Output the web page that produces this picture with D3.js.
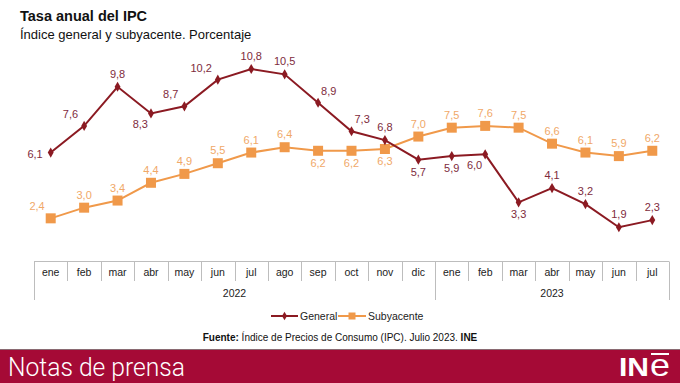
<!DOCTYPE html>
<html><head><meta charset="utf-8">
<script src="https://cdn.jsdelivr.net/npm/d3@7"></script>
<style>body{margin:0;background:#fff;} svg{display:block;font-family:"Liberation Sans",Arial,sans-serif;}</style>
</head><body><svg id="c" width="680" height="383"></svg>
<script>
const months = ["ene","feb","mar","abr","may","jun","jul","ago","sep","oct","nov","dic","ene","feb","mar","abr","may","jun","jul"];
const years = [{label:"2022", n:12},{label:"2023", n:7}];
const general = [6.1,7.6,9.8,8.3,8.7,10.2,10.8,10.5,8.9,7.3,6.8,5.7,5.9,6.0,3.3,4.1,3.2,1.9,2.3];
const subyacente = [2.4,3.0,3.4,4.4,4.9,5.5,6.1,6.4,6.2,6.2,6.3,7.0,7.5,7.6,7.5,6.6,6.1,5.9,6.2];
// label placement codes (layout, not data)
const genPos = ["l","al","a","bl","al","al","a","a","ar","ar","a","b","b","bl","b","a","a","a","a"];
const subPos = ["al","a","a","a","a","a","a","a","b","b","b","a","a","a","a","a","a","a","a"];

const svg = d3.select("#c");
const C_GEN = "#8b1a22", C_GEN_T = "#7e2b3c", C_SUB = "#f0994a", C_SUB_T = "#f0a868";
const fmt = v => d3.format(".1f")(v).replace(".", ",");

const x = d3.scaleBand().domain(d3.range(months.length)).range([34, 669]);
const xc = i => x(i) + x.bandwidth()/2;
const y = d3.scaleLinear().domain([0, 10.8]).range([261, 69]);

// titles
svg.append("text").attr("x",20).attr("y",21).attr("font-size",14.5).attr("font-weight","bold").attr("fill","#111").text("Tasa anual del IPC");
svg.append("text").attr("x",20).attr("y",39).attr("font-size",13).attr("fill","#111").text("Índice general y subyacente. Porcentaje");

// axis box
const ax = svg.append("g").attr("stroke","#bdbdbd").attr("stroke-width",1).attr("fill","none");
ax.append("line").attr("x1",34).attr("x2",669).attr("y1",261.5).attr("y2",261.5);
let idx = 0;
const bounds = [0];
years.forEach(yr => { idx += yr.n; bounds.push(idx); });
d3.range(months.length + 1).forEach(i => {
  const xx = Math.round(i < months.length ? x(i) : x(months.length-1) + x.bandwidth()) + 0.5;
  const long = bounds.includes(i);
  ax.append("line").attr("x1",xx).attr("x2",xx).attr("y1",261.5).attr("y2", long ? 300 : 281);
});
svg.append("g").selectAll("text").data(months).join("text")
  .attr("x",(d,i)=>xc(i)).attr("y",276).attr("text-anchor","middle").attr("font-size",10.5).attr("fill","#222").text(d=>d);
let start = 0;
years.forEach(yr => {
  const x0 = x(start), x1 = x(start + yr.n - 1) + x.bandwidth();
  svg.append("text").attr("x",(x0+x1)/2).attr("y",297).attr("text-anchor","middle").attr("font-size",10.5).attr("fill","#222").text(yr.label);
  start += yr.n;
});

// lines
const line = d3.line().x((d,i)=>xc(i)).y(d=>y(d));
svg.append("path").datum(subyacente).attr("d",line).attr("fill","none").attr("stroke",C_SUB).attr("stroke-width",2);
svg.append("path").datum(general).attr("d",line).attr("fill","none").attr("stroke",C_GEN).attr("stroke-width",2);

svg.append("g").selectAll("rect").data(subyacente).join("rect")
  .attr("x",(d,i)=>xc(i)-5).attr("y",d=>y(d)-5).attr("width",10).attr("height",10).attr("fill",C_SUB);
const diamond = d3.symbol().type(d3.symbolDiamond).size(30);
svg.append("g").selectAll("path").data(general).join("path")
  .attr("transform",(d,i)=>`translate(${xc(i)},${y(d)})`).attr("d",diamond).attr("fill",C_GEN);

const off = {
  a:[0,-9,"middle"], b:[0,16,"middle"], l:[-8,5,"end"], al:[-6,-8,"end"],
  ar:[3,-8,"start"], bl:[-3,15,"end"]
};
function labels(data, pos, col){
  svg.append("g").selectAll("text").data(data).join("text")
    .attr("x",(d,i)=>xc(i)+off[pos[i]][0]).attr("y",(d,i)=>y(d)+off[pos[i]][1])
    .attr("text-anchor",(d,i)=>off[pos[i]][2]).attr("font-size",11).attr("fill",col).text(d=>fmt(d));
}
labels(general, genPos, C_GEN_T);
labels(subyacente, subPos, C_SUB_T);

// legend
const lg = svg.append("g").attr("font-family","'Liberation Sans Narrow','Liberation Sans',Arial,sans-serif").attr("font-size",10.5);
lg.append("line").attr("x1",271).attr("x2",298).attr("y1",316).attr("y2",316).attr("stroke",C_GEN).attr("stroke-width",2);
lg.append("path").attr("transform","translate(284.5,316)").attr("d",d3.symbol().type(d3.symbolDiamond).size(22)).attr("fill",C_GEN);
lg.append("text").attr("x",300).attr("y",320).attr("fill","#222").text("General");
lg.append("line").attr("x1",338).attr("x2",366).attr("y1",316).attr("y2",316).attr("stroke",C_SUB).attr("stroke-width",2);
lg.append("rect").attr("x",348.5).attr("y",312.5).attr("width",7).attr("height",7).attr("fill",C_SUB);
lg.append("text").attr("x",368).attr("y",320).attr("fill","#222").text("Subyacente");

// source
const src = svg.append("text").attr("x",340).attr("y",341).attr("text-anchor","middle").attr("font-size",10)
  .attr("font-family","'Liberation Sans Narrow','Liberation Sans',Arial,sans-serif").attr("fill","#111");
src.append("tspan").attr("font-weight","bold").text("Fuente: ");
src.append("tspan").text("Índice de Precios de Consumo (IPC). Julio 2023. ");
src.append("tspan").attr("font-weight","bold").text("INE");

// footer band
svg.append("rect").attr("x",0).attr("y",349).attr("width",680).attr("height",34).attr("fill","#a50a36");
svg.append("line").attr("x1",0).attr("x2",680).attr("y1",349.5).attr("y2",349.5).attr("stroke","#8a6a72").attr("stroke-width",1);
svg.append("text").attr("x",8).attr("y",376).attr("font-size",26).attr("font-weight",300).attr("fill","#fff")
  .attr("font-family","Roboto,'Open Sans',sans-serif").attr("textLength",177).attr("lengthAdjust","spacingAndGlyphs").text("Notas de prensa");
svg.append("text").attr("x",619).attr("y",376).attr("font-size",25).attr("font-weight","bold").attr("fill","#fff")
  .attr("font-family","'Liberation Sans',sans-serif").attr("textLength",30).attr("lengthAdjust","spacingAndGlyphs").text("IN");
svg.append("text").attr("x",650).attr("y",376).attr("font-size",32).attr("fill","#fff")
  .attr("font-family","'Liberation Sans Narrow','Liberation Sans',sans-serif").attr("textLength",20).attr("lengthAdjust","spacingAndGlyphs").text("e");
svg.append("rect").attr("x",651).attr("y",353).attr("width",18).attr("height",2).attr("fill","#fff");
</script></body></html>
